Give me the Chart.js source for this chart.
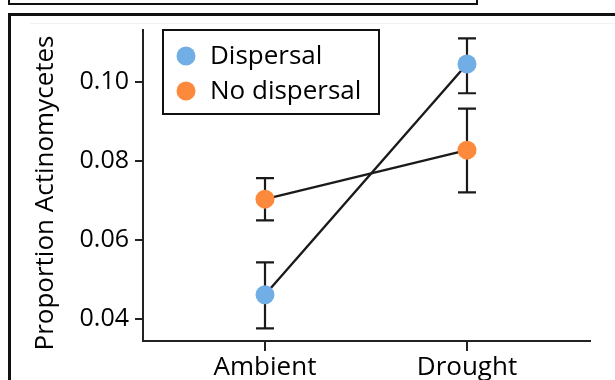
<!DOCTYPE html>
<html>
<head>
<meta charset="utf-8">
<script src="https://cdn.jsdelivr.net/npm/chart.js@4.4.1/dist/chart.umd.min.js"></script>
<style>
  body { margin: 0; background: #fff; }
  #wrap { position: relative; width: 615px; height: 380px; overflow: hidden; }
  #topBox { position: absolute; left: 8px; top: -50px; width: 466px; height: 51px; border: 2px solid #111; }
  #frame { position: absolute; left: 8px; top: 13px; width: 700px; height: 500px; border-top: 3px solid #111; border-left: 3px solid #111; }
  #faint { position: absolute; left: 30px; top: 23px; width: 600px; height: 1px; background: #f2f2f2; }
  #chart { position: absolute; left: 0; top: 0; }
</style>
</head>
<body>
<div id="wrap">
  <div id="topBox"></div>
  <div id="frame"></div>
  <div id="faint"></div>
  <canvas id="chart" width="615" height="380"></canvas>
</div>
<script>
  var categories = ["Ambient", "Drought"];
  var seriesNames = ["Dispersal", "No dispersal"];
  var dispersalMean = [0.0462, 0.1046];
  var dispersalLow = [0.0377, 0.0972];
  var dispersalHigh = [0.0544, 0.1111];
  var noDispersalMean = [0.0704, 0.0828];
  var noDispersalLow = [0.065, 0.0721];
  var noDispersalHigh = [0.0757, 0.0933];
  var yTicks = [0.04, 0.06, 0.08, 0.10];
  var yTitle = "Proportion Actinomycetes";

  var seriesColors = ["#72AEE6", "#FD8A3C"];
  var fontFamily = "'Open Sans', sans-serif";

  function toPoints(values) {
    return values.map(function (v, i) {
      return { x: i, y: v };
    });
  }

  // error bars drawn behind the points
  var errorBars = {
    id: "errorBars",
    beforeDatasetsDraw: function (chart) {
      var ctx = chart.ctx;
      var xs = chart.scales.x;
      var ys = chart.scales.y;
      ctx.save();
      ctx.strokeStyle = "#1a1a1a";
      ctx.lineWidth = 2.2;
      chart.data.datasets.forEach(function (ds) {
        ds.errLow.forEach(function (lo, i) {
          var px = xs.getPixelForValue(i);
          var top = ys.getPixelForValue(ds.errHigh[i]);
          var bot = ys.getPixelForValue(lo);
          ctx.beginPath();
          ctx.moveTo(px, top);
          ctx.lineTo(px, bot);
          ctx.moveTo(px - 9, top);
          ctx.lineTo(px + 9, top);
          ctx.moveTo(px - 9, bot);
          ctx.lineTo(px + 9, bot);
          ctx.stroke();
        });
      });
      ctx.restore();
    },
  };

  var boxLegend = {
    id: "boxLegend",
    afterDraw: function (chart) {
      var ctx = chart.ctx;
      ctx.save();
      ctx.strokeStyle = "#111";
      ctx.lineWidth = 2;
      ctx.strokeRect(163, 30, 216, 84);
      ctx.font = "26px " + fontFamily;
      ctx.textBaseline = "middle";
      ctx.textAlign = "left";
      chart.data.datasets.forEach(function (ds, i) {
        var y = 56 + i * 35;
        ctx.fillStyle = ds.backgroundColor;
        ctx.beginPath();
        ctx.arc(186, y, 9.5, 0, Math.PI * 2);
        ctx.fill();
        ctx.fillStyle = "#000";
        ctx.fillText(ds.label, 210, y + 1);
      });
      ctx.restore();
    },
  };

  var axisTitle = {
    id: "axisTitle",
    afterDraw: function (chart) {
      var ctx = chart.ctx;
      ctx.save();
      ctx.translate(46, 193);
      ctx.rotate(-Math.PI / 2);
      ctx.font = "26px " + fontFamily;
      ctx.fillStyle = "#000";
      ctx.textAlign = "center";
      ctx.textBaseline = "middle";
      ctx.fillText(yTitle, 0, 0);
      ctx.restore();
    },
  };

  var chartDiv = document.getElementById("chart");

  new Chart(chartDiv, {
    type: "line",
    data: {
      datasets: [
        {
          label: seriesNames[0],
          data: toPoints(dispersalMean),
          errLow: dispersalLow,
          errHigh: dispersalHigh,
          backgroundColor: seriesColors[0],
          pointBackgroundColor: seriesColors[0],
        },
        {
          label: seriesNames[1],
          data: toPoints(noDispersalMean),
          errLow: noDispersalLow,
          errHigh: noDispersalHigh,
          backgroundColor: seriesColors[1],
          pointBackgroundColor: seriesColors[1],
        },
      ],
    },
    options: {
      responsive: false,
      animation: false,
      layout: { padding: { left: 0, top: 30, right: 25, bottom: 0 } },
      elements: {
        line: { borderColor: "#1a1a1a", borderWidth: 2.4, tension: 0 },
        point: { radius: 9.5, borderWidth: 0, hoverRadius: 9.5 },
      },
      plugins: {
        legend: { display: false },
        tooltip: { enabled: false },
      },
      scales: {
        x: {
          type: "linear",
          min: -0.604,
          max: 1.609,
          afterBuildTicks: function (scale) {
            scale.ticks = categories.map(function (c, i) {
              return { value: i };
            });
          },
          afterFit: function (scale) {
            scale.height = 39;
          },
          grid: { drawOnChartArea: false, color: "#222", lineWidth: 2, tickLength: 10 },
          border: { color: "#222", width: 2 },
          ticks: {
            color: "#000",
            padding: 1,
            font: { family: fontFamily, size: 26 },
            callback: function (v) {
              return categories[v];
            },
          },
        },
        y: {
          min: 0.0345,
          max: 0.1132,
          afterBuildTicks: function (scale) {
            scale.ticks = yTicks.map(function (v) {
              return { value: v };
            });
          },
          afterFit: function (scale) {
            scale.width = 143;
          },
          grid: { drawOnChartArea: false, color: "#222", lineWidth: 2, tickLength: 8 },
          border: { color: "#222", width: 2 },
          ticks: {
            color: "#000",
            padding: 6,
            font: { family: fontFamily, size: 25 },
            callback: function (v) {
              return v.toFixed(2);
            },
          },
        },
      },
    },
    plugins: [errorBars, boxLegend, axisTitle],
  });
</script>
</body>
</html>
